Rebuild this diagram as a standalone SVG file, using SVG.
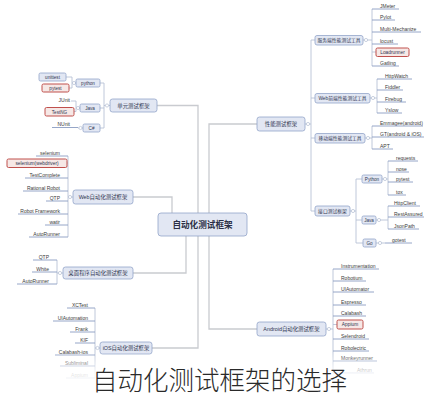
<svg xmlns="http://www.w3.org/2000/svg" width="432" height="400" viewBox="0 0 432 400">
<defs>
<style>
.ln{fill:none;stroke:#c9cbd0;stroke-width:1.3}
.sl{fill:none;stroke:#b8c2d6;stroke-width:0.9}
.box{fill:#e2e7f3;stroke:#93a5c9;stroke-width:0.8}
.rbox{fill:#f6e8e6;stroke:#c0504d;stroke-width:1}
.ul{stroke:#8a9cc2;stroke-width:0.9}
.ci{fill:#fff;stroke:#aab5cc;stroke-width:0.6}
text{font-family:"Liberation Sans","Noto Sans CJK SC",sans-serif;fill:#3a3a3a}
.lf{font-size:5px}
.lr{font-size:5px;text-anchor:end}
.bt{font-size:5.4px;text-anchor:middle;fill:#2f3550}
.ct{font-size:8.6px;font-weight:bold;text-anchor:middle;fill:#2b2f45}
</style>
<linearGradient id="fade" x1="0" y1="0" x2="0" y2="1">
<stop offset="0" stop-color="#fff" stop-opacity="0"/>
<stop offset="0.45" stop-color="#fff" stop-opacity="0.85"/>
<stop offset="1" stop-color="#fff" stop-opacity="0.95"/>
</linearGradient>
</defs>
<rect width="432" height="400" fill="#fff"/>
<g id="connectors">
<path class="ln" d="M133 197H172V213M157 105.5H198V213M257 124H209V213M133 273H186V236M152 348H198V236M257 329H209V236"/>
<path class="sl" d="M305 124H311M311 40V211M311 40H315M311 98H315M311 138H315M311 211H315"/>
<path class="sl" d="M363 40H372M372 9V66M372 52H376"/>
<path class="sl" d="M370 98H377M377 79V113"/>
<path class="sl" d="M365 138H372M372 126V149"/>
<path class="sl" d="M350 211H356M356 179V243M356 179H362M356 220H362M356 243H363"/>
<path class="sl" d="M382 179H388M388 161V195"/>
<path class="sl" d="M376 220H388M388 206V229"/>
<path class="sl" d="M376 243H385"/>
<path class="sl" d="M326 329H333M333 269V373M333 324.5H337"/>
<path class="sl" d="M110 105.5H104M104 83V128M104 83H100M104 108H100M104 128H100"/>
<path class="sl" d="M76 83H72M72 77V88M72 77H66M72 88H69"/>
<path class="sl" d="M80 108H76M76 101V111.5H74M76 101H71"/>
<path class="sl" d="M83 128H78"/>
<path class="sl" d="M73 197H68M68 156V237M68 163H67"/>
<path class="sl" d="M63 273H57M57 260V284"/>
<path class="sl" d="M100 348H95M95 308V378"/>
<circle class="ci" cx="308" cy="124" r="1.6"/>
<circle class="ci" cx="366" cy="40" r="1.6"/>
<circle class="ci" cx="373" cy="98" r="1.6"/>
<circle class="ci" cx="368" cy="138" r="1.6"/>
<circle class="ci" cx="353" cy="211" r="1.6"/>
<circle class="ci" cx="385" cy="179" r="1.6"/>
<circle class="ci" cx="379" cy="220" r="1.6"/>
<circle class="ci" cx="380" cy="243" r="1.6"/>
<circle class="ci" cx="329" cy="329" r="1.6"/>
<circle class="ci" cx="107" cy="105.5" r="1.6"/>
<circle class="ci" cx="74" cy="83" r="1.6"/>
<circle class="ci" cx="78" cy="108" r="1.6"/>
<circle class="ci" cx="80.5" cy="128" r="1.6"/>
<circle class="ci" cx="70" cy="197" r="1.6"/>
<circle class="ci" cx="60" cy="273" r="1.6"/>
<circle class="ci" cx="97.5" cy="348" r="1.6"/>
</g>
<g id="center"><rect class="box" x="158" y="213" width="89" height="23" rx="3"/><text class="ct" x="202.5" y="227.5">自动化测试框架</text></g>
<g id="perf"><rect class="box" x="257" y="117" width="48" height="14" rx="2.5"/><text class="bt" x="281" y="126">性能测试框架</text></g>
<g id="server"><rect class="box" x="315" y="35.5" width="48" height="9.5" rx="2"/><text class="bt" x="339" y="42" style="font-size:4.8px">服务端性能测试工具</text></g>
<g id="webperf"><rect class="box" x="315" y="93.5" width="55" height="9.5" rx="2"/><text class="bt" x="342.5" y="100" style="font-size:4.8px">Web前端性能测试工具</text></g>
<g id="mobperf"><rect class="box" x="315" y="133.5" width="50" height="9.5" rx="2"/><text class="bt" x="340" y="140" style="font-size:4.8px">移动端性能测试工具</text></g>
<g id="api"><rect class="box" x="315" y="206" width="35" height="10" rx="2"/><text class="bt" x="332.5" y="212.8" style="font-size:4.8px">接口测试框架</text></g>
<g id="py-r"><rect class="box" x="362" y="175" width="20" height="8" rx="1.5"/><text class="bt" x="372" y="180.7" style="font-size:4.6px">Python</text></g>
<g id="java-r"><rect class="box" x="362" y="216" width="14" height="8" rx="1.5"/><text class="bt" x="369" y="221.7" style="font-size:4.6px">Java</text></g>
<g id="go-r"><rect class="box" x="363" y="239" width="13" height="8" rx="1.5"/><text class="bt" x="369.5" y="244.7" style="font-size:4.6px">Go</text></g>
<g id="android"><rect class="box" x="257" y="322" width="69" height="14" rx="2.5"/><text class="bt" x="291.5" y="331">Android自动化测试框架</text></g>
<g id="unit"><rect class="box" x="110" y="99" width="47" height="13" rx="2.5"/><text class="bt" x="133.5" y="107.5">单元测试框架</text></g>
<g id="py-l"><rect class="box" x="76" y="79" width="24" height="8" rx="1.5"/><text class="bt" x="88" y="84.7" style="font-size:4.6px">python</text></g>
<g id="java-l"><rect class="box" x="80" y="104" width="20" height="8" rx="1.5"/><text class="bt" x="90" y="109.7" style="font-size:4.6px">Java</text></g>
<g id="cs-l"><rect class="box" x="83" y="124" width="17" height="8" rx="1.5"/><text class="bt" x="91.5" y="129.7" style="font-size:4.6px">C#</text></g>
<g id="web"><rect class="box" x="73" y="190" width="60" height="14" rx="2.5"/><text class="bt" x="103" y="199">Web自动化测试框架</text></g>
<g id="desktop"><rect class="box" x="63" y="267" width="70" height="12" rx="2.5"/><text class="bt" x="98" y="275">桌面程序自动化测试框架</text></g>
<g id="ios"><rect class="box" x="100" y="342" width="52" height="12" rx="2.5"/><text class="bt" x="126" y="350">iOS自动化测试框架</text></g>
<g id="n-unittest"><rect class="box" x="39" y="73" width="27" height="8" rx="1.5"/><text class="bt" x="52.5" y="78.7" style="font-size:4.6px">unittest</text></g>
<g id="n-pytest"><rect class="rbox" x="42" y="84" width="27" height="8" rx="1.5"/><text class="bt" x="55.5" y="89.7" style="font-size:4.6px">pytest</text></g>
<g id="n-junit"><text class="lr" x="70" y="102">JUnit</text></g>
<g id="n-testng"><rect class="rbox" x="45" y="107.5" width="29" height="8.5" rx="1.5"/><text class="bt" x="59.5" y="113.5" style="font-size:4.6px">TestNG</text></g>
<g id="n-nunit"><text class="lr" x="70" y="125.5">NUnit</text><line class="ul" x1="52" y1="127.5" x2="78" y2="127.5"/></g>
<g id="n-jmeter"><text class="lf" x="380" y="7.5">JMeter</text><line class="ul" x1="372" y1="9" x2="399" y2="9"/></g>
<g id="n-pylot"><text class="lf" x="380" y="18.5">Pylot</text><line class="ul" x1="372" y1="20" x2="395" y2="20"/></g>
<g id="n-multi"><text class="lf" x="380" y="30.5">Multi-Mechanize</text><line class="ul" x1="372" y1="32" x2="421" y2="32"/></g>
<g id="n-locust"><text class="lf" x="380" y="42.5">locust</text><line class="ul" x1="372" y1="44" x2="398" y2="44"/></g>
<g id="n-loadrunner"><rect class="rbox" x="376" y="48" width="33" height="8.5" rx="1.5"/><text class="bt" x="392.5" y="54" style="font-size:4.8px">Loadrunner</text></g>
<g id="n-gatling"><text class="lf" x="380" y="64.5">Gatling</text><line class="ul" x1="372" y1="66" x2="399" y2="66"/></g>
<g id="n-httpwatch"><text class="lf" x="385" y="77.5">HttpWatch</text><line class="ul" x1="377" y1="79" x2="412" y2="79"/></g>
<g id="n-fiddler"><text class="lf" x="385" y="88.5">Fiddler</text><line class="ul" x1="377" y1="90" x2="403" y2="90"/></g>
<g id="n-firebug"><text class="lf" x="385" y="100.5">Firebug</text><line class="ul" x1="377" y1="102" x2="406" y2="102"/></g>
<g id="n-yslow"><text class="lf" x="385" y="111.5">Yslow</text><line class="ul" x1="377" y1="113" x2="402" y2="113"/></g>
<g id="n-emmagee"><text class="lf" x="380" y="124.5">Emmagee(android)</text><line class="ul" x1="372" y1="126" x2="423" y2="126"/></g>
<g id="n-gt"><text class="lf" x="380" y="135.5">GT(android &amp; iOS)</text><line class="ul" x1="372" y1="137" x2="424" y2="137"/></g>
<g id="n-apt"><text class="lf" x="380" y="147.5">APT</text><line class="ul" x1="372" y1="149" x2="393" y2="149"/></g>
<g id="n-requests"><text class="lf" x="396" y="159.5">requests</text><line class="ul" x1="388" y1="161" x2="418" y2="161"/></g>
<g id="n-nose"><text class="lf" x="396" y="170.5">nose</text><line class="ul" x1="388" y1="172" x2="409" y2="172"/></g>
<g id="n-pytest-r"><text class="lf" x="396" y="180.5">pytest</text><line class="ul" x1="388" y1="182" x2="413" y2="182"/></g>
<g id="n-tox"><text class="lf" x="396" y="193.5">tox</text><line class="ul" x1="388" y1="195" x2="406" y2="195"/></g>
<g id="n-httpclient"><text class="lf" x="394" y="204.5">HttpClient</text><line class="ul" x1="388" y1="206" x2="420" y2="206"/></g>
<g id="n-restassured"><text class="lf" x="394" y="215.5">RestAssured</text><line class="ul" x1="388" y1="217" x2="424" y2="217"/></g>
<g id="n-jsonpath"><text class="lf" x="394" y="227.5">JsonPath</text><line class="ul" x1="388" y1="229" x2="419" y2="229"/></g>
<g id="n-gotest"><text class="lf" x="392" y="241.5">gotest</text><line class="ul" x1="385" y1="243" x2="412" y2="243"/></g>
<g id="n-instr"><text class="lf" x="341" y="267.5">Instrumentation</text><line class="ul" x1="333" y1="269" x2="379" y2="269"/></g>
<g id="n-robotium"><text class="lf" x="341" y="279.5">Robotium</text><line class="ul" x1="333" y1="281" x2="366" y2="281"/></g>
<g id="n-uiautomator"><text class="lf" x="341" y="290.5">UIAutomator</text><line class="ul" x1="333" y1="292" x2="374" y2="292"/></g>
<g id="n-espresso"><text class="lf" x="341" y="303.5">Espresso</text><line class="ul" x1="333" y1="305" x2="366" y2="305"/></g>
<g id="n-calabash"><text class="lf" x="341" y="314.5">Calabash</text><line class="ul" x1="333" y1="316" x2="366" y2="316"/></g>
<g id="n-appium"><rect class="rbox" x="337" y="320" width="26" height="9" rx="1.5"/><text class="bt" x="350" y="326.3" style="font-size:4.8px">Appium</text></g>
<g id="n-selendroid"><text class="lf" x="341" y="337.5">Selendroid</text><line class="ul" x1="333" y1="339" x2="369" y2="339"/></g>
<g id="n-robolectric"><text class="lf" x="341" y="349.5">Robolectric</text><line class="ul" x1="333" y1="351" x2="369" y2="351"/></g>
<g id="n-monkey"><text class="lf" x="341" y="359.5">Monkeyrunner</text><line class="ul" x1="333" y1="361" x2="377" y2="361"/></g>
<g id="n-athrun"><text class="lf" x="357" y="371.5">Athrun</text><line class="ul" x1="333" y1="373" x2="374" y2="373"/></g>
<g id="n-selenium"><text class="lr" x="60" y="154.5">selenium</text><line class="ul" x1="36" y1="156" x2="68" y2="156"/></g>
<g id="n-webdriver"><rect class="rbox" x="7" y="159" width="60" height="8.5" rx="1.5"/><text class="bt" x="37" y="165" style="font-size:4.8px">selenium(webdriver)</text></g>
<g id="n-testcomplete"><text class="lr" x="60" y="176.5">TestComplete</text><line class="ul" x1="25" y1="178" x2="68" y2="178"/></g>
<g id="n-rational"><text class="lr" x="60" y="189.5">Rational Robot</text><line class="ul" x1="23" y1="191" x2="68" y2="191"/></g>
<g id="n-qtp-w"><text class="lr" x="60" y="199.5">QTP</text><line class="ul" x1="46" y1="201" x2="68" y2="201"/></g>
<g id="n-robotfw"><text class="lr" x="60" y="212.5">Robot Framework</text><line class="ul" x1="18" y1="214" x2="68" y2="214"/></g>
<g id="n-watir"><text class="lr" x="60" y="223.5">watir</text><line class="ul" x1="45" y1="225" x2="68" y2="225"/></g>
<g id="n-autorunner-w"><text class="lr" x="60" y="235.5">AutoRunner</text><line class="ul" x1="29" y1="237" x2="68" y2="237"/></g>
<g id="n-qtp-d"><text class="lr" x="49" y="258.5">QTP</text><line class="ul" x1="33" y1="260" x2="57" y2="260"/></g>
<g id="n-white"><text class="lr" x="49" y="270.5">White</text><line class="ul" x1="32" y1="272" x2="57" y2="272"/></g>
<g id="n-autorunner-d"><text class="lr" x="49" y="282.5">AutoRunner</text><line class="ul" x1="17" y1="284" x2="57" y2="284"/></g>
<g id="n-xctest"><text class="lr" x="88" y="306.5">XCTest</text><line class="ul" x1="67" y1="308" x2="95" y2="308"/></g>
<g id="n-uiautomation"><text class="lr" x="88" y="319.5">UIAutomation</text><line class="ul" x1="53" y1="321" x2="95" y2="321"/></g>
<g id="n-frank"><text class="lr" x="88" y="330.5">Frank</text><line class="ul" x1="70" y1="332" x2="95" y2="332"/></g>
<g id="n-kif"><text class="lr" x="88" y="341.5">KIF</text><line class="ul" x1="75" y1="343" x2="95" y2="343"/></g>
<g id="n-calabash-ios"><text class="lr" x="88" y="353.5">Calabash-ios</text><line class="ul" x1="55" y1="355" x2="95" y2="355"/></g>
<g id="n-subliminal"><text class="lr" x="88" y="364.5">Subliminal</text><line class="ul" x1="60" y1="366" x2="95" y2="366"/></g>
<g id="n-appium-ios"><text class="lr" x="88" y="376.5">Appium</text><line class="ul" x1="66" y1="378" x2="95" y2="378"/></g>
<rect x="0" y="352" width="432" height="48" fill="url(#fade)"/>
<text x="92" y="390" textLength="255" lengthAdjust="spacingAndGlyphs" style="font-family:'Noto Sans CJK SC',sans-serif;font-size:26px;font-weight:300;fill:#2a2a2a">自动化测试框架的选择</text>
</svg>
